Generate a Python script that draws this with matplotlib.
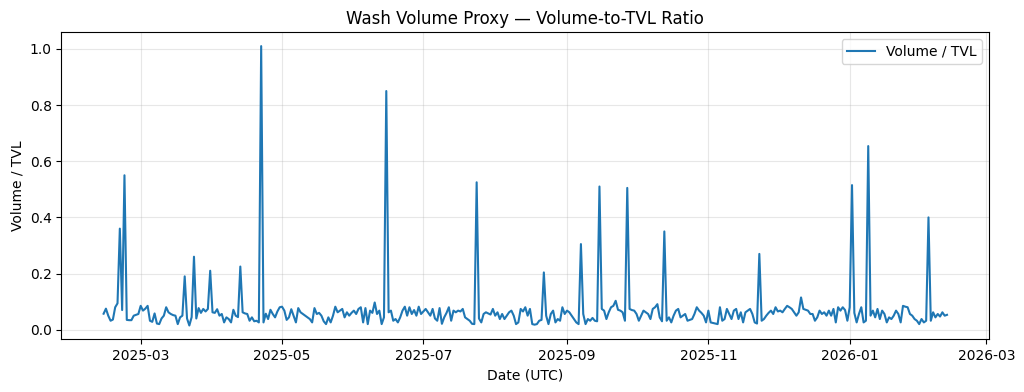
import pandas as pd
import matplotlib
matplotlib.use("Agg")
import matplotlib.pyplot as plt

start_date = "2025-02-13"

# daily volume / TVL ratio
ratio = [
    0.057, 0.075, 0.050, 0.032, 0.036, 0.080, 0.094, 0.36, 0.07, 0.55,
    0.035, 0.034, 0.034, 0.050, 0.053, 0.056, 0.085, 0.068, 0.075, 0.085,
    0.032, 0.028, 0.058, 0.022, 0.020, 0.040, 0.050, 0.080, 0.062, 0.056,
    0.052, 0.050, 0.020, 0.044, 0.050, 0.19, 0.040, 0.015, 0.045, 0.26,
    0.040, 0.077, 0.060, 0.074, 0.065, 0.074, 0.21, 0.062, 0.060, 0.073,
    0.050, 0.056, 0.026, 0.044, 0.038, 0.026, 0.071, 0.050, 0.045, 0.225,
    0.062, 0.058, 0.056, 0.032, 0.044, 0.030, 0.032, 0.026, 1.01, 0.026,
    0.057, 0.038, 0.071, 0.056, 0.044, 0.065, 0.080, 0.082, 0.068, 0.035,
    0.044, 0.073, 0.050, 0.026, 0.077, 0.062, 0.056, 0.050, 0.044, 0.038,
    0.026, 0.077, 0.056, 0.060, 0.050, 0.030, 0.020, 0.044, 0.026, 0.050,
    0.082, 0.062, 0.068, 0.074, 0.044, 0.062, 0.050, 0.060, 0.068, 0.056,
    0.074, 0.080, 0.026, 0.077, 0.020, 0.068, 0.060, 0.097, 0.056, 0.068,
    0.020, 0.044, 0.85, 0.062, 0.068, 0.032, 0.038, 0.026, 0.044, 0.068,
    0.082, 0.050, 0.080, 0.056, 0.070, 0.050, 0.082, 0.056, 0.065, 0.074,
    0.062, 0.050, 0.074, 0.040, 0.032, 0.077, 0.021, 0.044, 0.060, 0.080,
    0.032, 0.068, 0.062, 0.068, 0.065, 0.074, 0.044, 0.038, 0.032, 0.021,
    0.020, 0.525, 0.040, 0.026, 0.056, 0.062, 0.058, 0.054, 0.074, 0.050,
    0.062, 0.038, 0.056, 0.038, 0.050, 0.062, 0.068, 0.050, 0.020, 0.026,
    0.074, 0.065, 0.080, 0.050, 0.074, 0.020, 0.018, 0.020, 0.032, 0.035,
    0.204, 0.050, 0.020, 0.056, 0.068, 0.026, 0.038, 0.032, 0.080, 0.056,
    0.068, 0.062, 0.050, 0.038, 0.026, 0.020, 0.305, 0.056, 0.020, 0.038,
    0.032, 0.042, 0.032, 0.030, 0.51, 0.074, 0.068, 0.038, 0.062, 0.080,
    0.085, 0.103, 0.071, 0.068, 0.062, 0.032, 0.505, 0.074, 0.070, 0.068,
    0.056, 0.032, 0.050, 0.068, 0.062, 0.056, 0.038, 0.074, 0.080, 0.091,
    0.044, 0.030, 0.35, 0.032, 0.044, 0.026, 0.050, 0.068, 0.074, 0.044,
    0.050, 0.056, 0.032, 0.035, 0.038, 0.056, 0.080, 0.068, 0.060, 0.050,
    0.026, 0.068, 0.026, 0.024, 0.022, 0.020, 0.080, 0.032, 0.038, 0.074,
    0.056, 0.038, 0.068, 0.074, 0.038, 0.062, 0.026, 0.062, 0.068, 0.074,
    0.056, 0.026, 0.022, 0.27, 0.032, 0.038, 0.050, 0.060, 0.068, 0.056,
    0.080, 0.065, 0.068, 0.062, 0.074, 0.085, 0.080, 0.074, 0.062, 0.050,
    0.062, 0.115, 0.074, 0.071, 0.068, 0.056, 0.056, 0.032, 0.044, 0.068,
    0.056, 0.062, 0.050, 0.068, 0.050, 0.074, 0.026, 0.080, 0.068, 0.080,
    0.070, 0.032, 0.080, 0.515, 0.060, 0.026, 0.056, 0.080, 0.026, 0.032,
    0.654, 0.050, 0.068, 0.044, 0.074, 0.038, 0.068, 0.056, 0.026, 0.044,
    0.038, 0.050, 0.068, 0.056, 0.026, 0.085, 0.082, 0.080, 0.056, 0.050,
    0.038, 0.032, 0.020, 0.038, 0.026, 0.032, 0.40, 0.032, 0.062, 0.044,
    0.056, 0.047, 0.062, 0.050, 0.053,
]

dates = pd.date_range(start_date, periods=len(ratio), freq="D")

fig, ax = plt.subplots(figsize=(10.24, 3.92), dpi=100)
ax.plot(dates, ratio, color="#1f77b4", linewidth=1.5, label="Volume / TVL")
ax.set_title("Wash Volume Proxy — Volume-to-TVL Ratio")
ax.set_xlabel("Date (UTC)")
ax.set_ylabel("Volume / TVL")
ax.grid(True, alpha=0.3)
ax.legend(loc="upper right")
fig.subplots_adjust(left=0.060, right=0.966, bottom=0.134, top=0.918)
fig.savefig("out.png", dpi=100)
